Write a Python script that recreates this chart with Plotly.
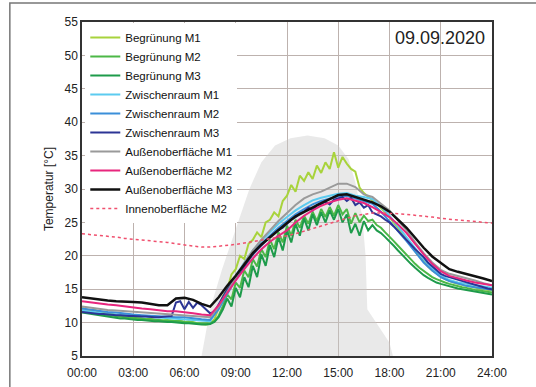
"""
    temperature profile 09.09.2020, green facade vs reference
"""

import plotly.graph_objects as go


####~~~~  data

# time axes in hours
t30 = [i * 0.5 for i in range(49)]
t15 = [i * 0.25 for i in range(97)]

x_ticks = [0, 3, 6, 9, 12, 15, 18, 21, 24]
x_labels = ["00:00", "03:00", "06:00", "09:00", "12:00", "15:00", "18:00", "21:00", "24:00"]

# grey background blob (radiation shadow in the original)
blob_t = [7.0, 7.5, 8.2, 9.0, 9.8, 10.5, 11.3, 12.2, 13.2, 14.2, 15.0, 15.6,
          16.0, 16.4, 16.6, 16.7, 17.5, 18.0, 18.2]
blob_v = [5, 12, 18, 24, 30, 34, 36.5, 37.6, 38.0, 37.6, 36.5, 34.5,
          31, 26, 20, 12, 9, 7, 5]

# 15 min series, one hour per row
begr_m1 = [12.2, 12.0, 11.8, 11.9,
           11.6, 11.5, 11.3, 11.4,
           11.0, 10.9, 11.0, 10.8,
           10.7, 10.8, 10.6, 10.5,
           10.6, 10.4, 10.4, 10.3,
           10.4, 10.3, 10.2, 10.3,
           10.1, 10.2, 10.0, 9.9,
           9.8, 9.7, 9.8, 10.5,
           12.2, 14.0, 15.0, 17.2,
           18.0, 20.0, 19.5, 21.8,
           22.4, 23.5, 22.8, 25.0,
           25.4, 26.5, 25.9, 28.2,
           29.0, 30.6, 29.6, 32.0,
           31.2, 32.5, 31.5, 33.5,
           32.4, 34.0, 33.0, 35.5,
           33.2, 34.8, 33.8, 33.0,
           32.6, 30.2, 29.4, 28.8,
           28.3, 27.8, 27.2, 26.5,
           25.8, 25.0, 24.2, 23.3,
           22.4, 21.5, 20.7, 19.9,
           19.1, 18.4, 17.8, 17.3,
           16.9, 16.5, 16.2, 16.0,
           15.8, 15.6, 15.5, 15.4,
           15.2, 15.1, 15.0, 14.9,
           14.8]

begr_m2 = [11.8, 11.6, 11.5, 11.4,
           11.3, 11.2, 11.1, 11.0,
           10.9, 10.9, 10.8, 10.8,
           10.7, 10.6, 10.6, 10.5,
           10.5, 10.4, 10.4, 10.3,
           10.3, 10.3, 10.2, 10.2,
           10.1, 10.1, 10.0, 9.9,
           9.9, 9.8, 9.9, 10.2,
           11.0, 12.5, 14.2, 13.5,
           16.0, 15.2, 17.8, 16.8,
           19.5, 18.4, 21.0, 19.8,
           22.4, 21.0, 23.5, 22.0,
           24.5, 23.0, 25.4, 24.2,
           26.0, 24.8, 26.6, 25.2,
           27.0, 25.8, 27.3, 26.0,
           27.6, 26.2, 27.0, 24.8,
           26.4, 25.0, 26.0, 25.2,
           25.4, 24.6, 24.2, 23.5,
           22.9, 22.2, 21.5, 20.8,
           20.1, 19.4, 18.8, 18.2,
           17.7, 17.2, 16.8, 16.5,
           16.2, 16.0, 15.8, 15.6,
           15.4, 15.3, 15.2, 15.0,
           14.9, 14.8, 14.7, 14.6,
           14.5]

begr_m3 = [11.5, 11.4, 11.2, 11.1,
           11.0, 10.9, 10.8, 10.8,
           10.7, 10.6, 10.6, 10.5,
           10.5, 10.4, 10.4, 10.3,
           10.3, 10.2, 10.2, 10.1,
           10.1, 10.1, 10.0, 10.0,
           9.9, 9.9, 9.8, 9.8,
           9.7, 9.7, 9.8, 10.1,
           10.8, 12.0, 13.6, 12.4,
           15.2, 13.8, 16.8, 15.3,
           18.5, 16.8, 20.2, 18.5,
           21.6, 19.8, 22.8, 20.8,
           23.8, 22.0, 24.8, 23.0,
           25.6, 23.8, 26.2, 24.6,
           26.5, 25.0, 26.8, 25.4,
           27.0, 25.0, 26.2, 23.4,
           24.8, 23.0, 25.2, 23.8,
           24.6, 23.8, 23.4, 22.8,
           22.2, 21.5, 20.8, 20.1,
           19.4, 18.8, 18.2, 17.6,
           17.1, 16.7, 16.3, 16.0,
           15.8, 15.6, 15.4, 15.3,
           15.1, 15.0, 14.9, 14.8,
           14.6, 14.5, 14.4, 14.3,
           14.2]

zwr_m3 = [11.6, 11.5, 11.4, 11.4,
          11.3, 11.3, 11.2, 11.2,
          11.1, 11.1, 11.0, 11.0,
          11.0, 10.9, 10.9, 10.9,
          10.8, 10.8, 10.8, 10.9,
          10.9, 11.0, 13.0, 13.2,
          12.0, 13.1, 12.2, 13.0,
          12.6, 12.0, 11.4, 11.6,
          12.8, 14.0, 15.0, 15.8,
          16.6, 17.5, 18.4, 19.3,
          20.2, 20.9, 21.6, 22.2,
          22.8, 23.4, 23.9, 24.2,
          24.8, 25.4, 25.8, 26.3,
          26.6, 27.2, 26.8, 27.6,
          27.8, 28.1, 27.7, 28.4,
          28.6, 28.8, 28.2, 28.7,
          27.6, 28.0, 27.2, 27.6,
          26.5, 26.2, 25.9, 25.4,
          25.0, 24.4, 23.7, 23.0,
          22.3, 21.6, 21.0, 20.4,
          19.8, 19.0, 18.4, 17.8,
          17.3, 17.0, 16.8, 16.6,
          16.4, 16.2, 16.0, 15.8,
          15.6, 15.4, 15.3, 15.1,
          15.0]

# 30 min series
zwr_m1 = [11.8, 11.6, 11.4, 11.3, 11.2, 11.1, 11.0, 10.9, 10.8, 10.7,
          10.7, 10.6, 10.5, 10.4, 10.3, 10.2, 12.2, 14.6, 17.0, 19.0,
          20.8, 22.3, 23.5, 24.8, 25.8, 26.8, 27.6, 28.3, 28.7, 29.0,
          29.3, 29.4, 29.0, 28.8, 28.5, 27.4, 26.0, 24.4, 22.8, 21.1,
          19.5, 18.1, 17.0, 16.4, 16.0, 15.8, 15.6, 15.4, 15.2]

zwr_m2 = [12.1, 11.9, 11.7, 11.6, 11.5, 11.3, 11.2, 11.1, 11.0, 10.9,
          10.9, 10.8, 10.8, 10.6, 10.5, 10.4, 12.0, 14.3, 16.5, 18.6,
          20.4, 21.8, 23.0, 24.2, 25.2, 26.2, 27.0, 27.7, 28.2, 28.6,
          28.9, 29.0, 28.6, 28.3, 27.8, 26.6, 25.2, 23.7, 22.2, 20.6,
          19.0, 17.8, 16.8, 16.2, 15.8, 15.5, 15.3, 15.1, 14.9]

aussen_m1 = [12.4, 12.2, 12.0, 11.9, 11.8, 11.7, 11.6, 11.5, 11.4, 11.3,
             11.2, 11.1, 11.0, 10.9, 10.9, 10.8, 12.4, 14.6, 16.8, 18.9,
             20.8, 22.4, 23.8, 25.2, 26.4, 27.6, 28.6, 29.2, 29.6, 30.2,
             30.8, 30.8, 30.3, 29.2, 28.8, 27.8, 26.8, 25.3, 23.8, 22.0,
             20.4, 19.0, 17.9, 17.3, 17.0, 16.6, 16.3, 15.9, 15.6]

aussen_m2 = [13.2, 13.0, 12.8, 12.7, 12.6, 12.4, 12.3, 12.1, 12.0, 11.8,
             11.7, 11.7, 11.6, 11.4, 11.2, 11.1, 12.6, 14.5, 16.3, 18.0,
             19.6, 21.0, 22.1, 23.0, 23.8, 25.0, 26.0, 26.8, 27.5, 28.0,
             28.4, 28.6, 28.3, 27.9, 27.3, 26.6, 25.8, 24.7, 23.4, 21.8,
             20.2, 18.8, 17.7, 17.0, 16.6, 16.3, 16.0, 15.8, 15.6]

aussen_m3 = [13.8, 13.6, 13.4, 13.3, 13.2, 13.2, 13.1, 13.0, 12.8, 12.6,
             12.6, 13.6, 13.7, 13.4, 12.8, 12.4, 13.8, 15.5, 17.0, 18.7,
             20.4, 21.7, 22.8, 23.9, 24.9, 25.9, 26.6, 27.3, 27.9, 28.5,
             29.1, 29.2, 28.8, 28.4, 28.0, 27.4, 26.6, 25.4, 24.2, 22.7,
             21.2, 19.9, 18.9, 18.0, 17.6, 17.3, 17.0, 16.6, 16.2]

innen_m2 = [23.3, 23.2, 23.0, 22.9, 22.8, 22.6, 22.5, 22.4, 22.3, 22.2,
            22.0, 21.8, 21.6, 21.4, 21.3, 21.3, 21.4, 21.5, 21.7, 21.9,
            22.1, 22.3, 22.5, 22.7, 23.0, 23.3, 23.7, 24.1, 24.5, 24.9,
            25.3, 25.7, 26.0, 26.2, 26.4, 26.4, 26.4, 26.3, 26.2, 26.1,
            25.9, 25.8, 25.6, 25.5, 25.3, 25.2, 25.1, 25.0, 24.9]


####~~~~


def main() :
    fig = go.Figure()

    fig.add_trace(go.Scatter(
        x=blob_t, y=blob_v,
        fill="toself", fillcolor="rgba(200,200,200,0.4)",
        line=dict(width=0), mode="lines",
        showlegend=False, hoverinfo="skip"
    ))

    series = [
        ("Begrünung M1", t15, begr_m1, "#a8d33c", 2, "solid"),
        ("Begrünung M2", t15, begr_m2, "#4cb847", 2, "solid"),
        ("Begrünung M3", t15, begr_m3, "#1e9b4b", 2, "solid"),
        ("Zwischenraum M1", t30, zwr_m1, "#5ccbf0", 2, "solid"),
        ("Zwischenraum M2", t30, zwr_m2, "#3b8fd9", 2, "solid"),
        ("Zwischenraum M3", t15, zwr_m3, "#2c3595", 2, "solid"),
        ("Außenoberfläche M1", t30, aussen_m1, "#9a9a9a", 2, "solid"),
        ("Außenoberfläche M2", t30, aussen_m2, "#e8267d", 2, "solid"),
        ("Außenoberfläche M3", t30, aussen_m3, "#111111", 2.5, "solid"),
        ("Innenoberfläche M2", t30, innen_m2, "#f0506e", 1.5, "dot"),
    ]
    for name, tt, vals, col, lw, dash in series :
        fig.add_trace(go.Scatter(
            x=tt, y=vals, name=name, mode="lines",
            line=dict(color=col, width=lw, dash=dash)
        ))

    fig.update_layout(
        width=536, height=387,
        margin=dict(l=82, r=44, t=22, b=31),
        paper_bgcolor="white", plot_bgcolor="white",
        font=dict(family="Liberation Sans, Arial, sans-serif", size=12, color="#222"),
        legend=dict(
            x=0.008, y=0.997, xanchor="left", yanchor="top",
            bgcolor="white", borderwidth=0,
            font=dict(size=11.5, color="#111"),
            itemwidth=30, tracegroupgap=0, maxheight=320
        ),
        xaxis=dict(
            range=[0, 24], tickvals=x_ticks, ticktext=x_labels,
            showgrid=True, gridcolor="#bdb2ae", gridwidth=1,
            showline=True, linecolor="#333", linewidth=1.5, mirror=True,
            ticks="", zeroline=False, ticklabelstandoff=5, automargin=False
        ),
        yaxis=dict(
            range=[5, 55], dtick=5,
            showgrid=True, gridcolor="#bdb2ae", gridwidth=1,
            showline=True, linecolor="#333", linewidth=1.5, mirror=True,
            ticks="", zeroline=False, automargin=False,
            title=dict(text="Temperatur [°C]", standoff=8, font=dict(size=12))
        ),
        shapes=[dict(
            type="rect", xref="paper", yref="paper",
            x0=-0.176, x1=1.12, y0=-0.11, y1=1.057,
            line=dict(color="#777", width=1.5), fillcolor="rgba(0,0,0,0)",
            layer="below"
        )],
        annotations=[dict(
            text="09.09.2020", xref="paper", yref="paper",
            x=0.988, y=0.988, xanchor="right", yanchor="top",
            showarrow=False, font=dict(size=18, color="#222")
        )]
    )

    # page body has a default 8px margin, drop it so the figure sits at 0,0
    fig.write_html("out.html", config={"displayModeBar": False},
                   post_script="document.body.style.margin='0';")


####~~~~


if __name__ == '__main__' :
    main()
